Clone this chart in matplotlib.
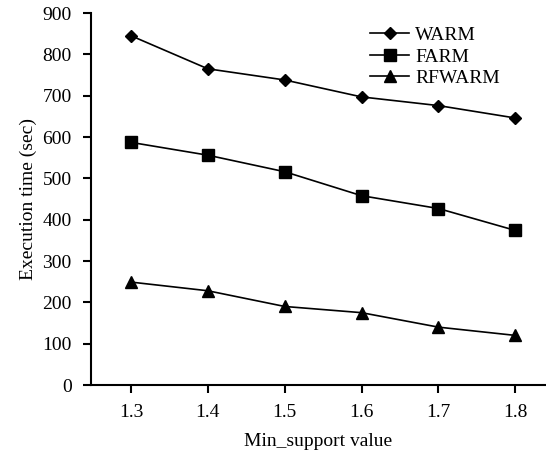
import matplotlib.pyplot as plt

plt.rcParams['font.family'] = 'Liberation Serif'

# dados
min_support = [1.3, 1.4, 1.5, 1.6, 1.7, 1.8]
warm = [845, 765, 738, 697, 676, 646]
farm = [587, 556, 516, 458, 427, 374]
rfwarm = [249, 228, 190, 175, 140, 120]

fig = plt.figure(figsize=(5.46, 4.53), dpi=100)
ax = fig.add_axes([91/546, 68/453, 455/546, 372/453])

ax.plot(min_support, warm, color='black', lw=1.2, marker='D', ms=6, label='WARM')
ax.plot(min_support, farm, color='black', lw=1.2, marker='s', ms=8, label='FARM')
ax.plot(min_support, rfwarm, color='black', lw=1.2, marker='^', ms=8, label='RFWARM')

ax.set_xlim(1.248, 1.84)
ax.set_ylim(0, 900)
ax.set_xticks(min_support)
ax.set_xticklabels(['1.3', '1.4', '1.5', '1.6', '1.7', '1.8'])
ax.set_yticks(range(0, 901, 100))

ax.spines['top'].set_visible(False)
ax.spines['right'].set_visible(False)
ax.spines['left'].set_linewidth(1.5)
ax.spines['bottom'].set_linewidth(1.5)
ax.tick_params(direction='out', length=6, width=1.5, labelsize=14, pad=8)

ax.set_xlabel('Min_support value', fontsize=14, labelpad=8)
ax.set_ylabel('Execution time (sec)', fontsize=14)

ax.legend(loc='upper right', bbox_to_anchor=(0.92, 0.99), frameon=False, fontsize=14,
          handlelength=2.0, handletextpad=0.3, labelspacing=0.2, borderpad=0)

fig.savefig('out.png')
